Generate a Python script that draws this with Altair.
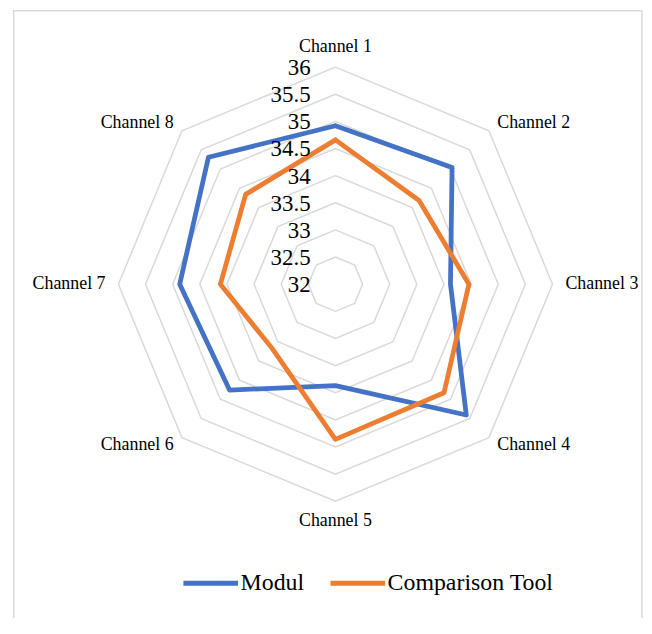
import altair as alt
import pandas as pd

# ---------------- data ----------------
channels = ["Channel 1", "Channel 2", "Channel 3", "Channel 4",
            "Channel 5", "Channel 6", "Channel 7", "Channel 8"]
modul = [34.92, 35.04, 34.12, 35.41, 33.87, 34.76, 34.87, 35.31]
comparison = [34.66, 34.18, 34.46, 34.83, 34.86, 33.66, 34.12, 34.34]
series_names = ["Modul", "Comparison Tool"]
series_colors = ["#4472C4", "#ED7D31"]
ring_values = [32, 32.5, 33, 33.5, 34, 34.5, 35, 35.5, 36]
tick_labels = ["32", "32.5", "33", "33.5", "34", "34.5", "35", "35.5", "36"]

R_MIN = ring_values[0]
N = len(channels)

rows = []
for name, vals in zip(series_names, [modul, comparison]):
    for k in range(N + 1):
        i = k % N
        rows.append({"series": name, "channel": channels[i], "idx": i,
                     "order": k, "value": vals[i]})
series_df = pd.DataFrame(rows)

grid_rows = []
for v in ring_values[1:]:
    for k in range(N + 1):
        grid_rows.append({"ring": v, "idx": k % N, "order": k, "value": v})
grid_df = pd.DataFrame(grid_rows)

tick_df = pd.DataFrame({"value": ring_values, "label": tick_labels})
label_df = pd.DataFrame({"channel": channels, "idx": list(range(N))})

# ---------------- layout ----------------
W, H = 633, 612
xs = alt.Scale(domain=[-5.943, 5.650], nice=False, zero=False)
ys = alt.Scale(domain=[-6.154, 5.055], nice=False, zero=False)
FONT = "Liberation Serif"

theta = f"datum.idx * 2 * PI / {N}"
polar_x = f"(datum.value - {R_MIN}) * sin({theta})"
polar_y = f"(datum.value - {R_MIN}) * cos({theta})"


def polar(chart):
    return chart.transform_calculate(px=polar_x, py=polar_y)


X = alt.X("px:Q", scale=xs, axis=None)
Y = alt.Y("py:Q", scale=ys, axis=None)

grid = polar(alt.Chart(grid_df)).mark_line(
    stroke="#d9d9d9", strokeWidth=1.5
).encode(x=X, y=Y, detail="ring:N", order="order:Q")

color = alt.Color(
    "series:N",
    scale=alt.Scale(domain=series_names, range=series_colors),
    legend=alt.Legend(
        title=None, orient="none", direction="horizontal",
        legendX=169, legendY=547, symbolType="stroke",
        symbolSize=3025, symbolStrokeWidth=5,
        labelFont=FONT, labelFontSize=24, labelColor="black",
        labelOffset=0, columnPadding=15, padding=0, labelLimit=0,
    ),
)

lines = []
for name in series_names:
    lines.append(
        polar(alt.Chart(series_df)).transform_filter(
            alt.datum.series == name
        ).mark_line(strokeWidth=4.8, strokeJoin="round", strokeCap="round").encode(
            x=X, y=Y, color=color, order="order:Q"
        )
    )

ticks = alt.Chart(tick_df).transform_calculate(
    px="0", py=f"datum.value - {R_MIN}"
).mark_text(align="right", baseline="middle", dx=-25, dy=1,
            font=FONT, fontSize=23, color="black").encode(
    x=X, y=Y, text="label:N"
)

m = "(datum.idx % 4)"
sgn_s = f"(sin({theta}) > 0 ? 1 : -1)"
sgn_c = f"(cos({theta}) > 0 ? 1 : -1)"
labels = alt.Chart(label_df).transform_calculate(
    px=f"{m} == 0 ? 0 : ({m} == 2 ? {sgn_s} * 4.91 : {sgn_s} * 3.654)",
    py=f"{m} == 2 ? 0 : ({m} == 0 ? {sgn_c} * 4.37 : {sgn_c} * 2.967)",
).mark_text(align="center", baseline="middle", font=FONT, fontSize=18,
            color="black").encode(x=X, y=Y, text="channel:N")

one = pd.DataFrame({"a": [0]})
border_left = alt.Chart(one).mark_rule(color="#d9d9d9", strokeWidth=1.5).encode(
    x=alt.value(0.75), y=alt.value(0), y2=alt.value(H))
border_top = alt.Chart(one).mark_rule(color="#d9d9d9", strokeWidth=1.5).encode(
    x=alt.value(0), x2=alt.value(W), y=alt.value(0.75))
border_right = alt.Chart(one).mark_rule(color="#d9d9d9", strokeWidth=1.5).encode(
    x=alt.value(W), y=alt.value(0), y2=alt.value(H))

chart = alt.layer(
    border_left, border_top, border_right, grid, *lines, ticks, labels
).properties(
    width=W, height=H,
    padding={"left": 5, "top": 0, "right": 2, "bottom": 0},
    autosize=alt.AutoSizeParams(type="none"),
).configure(font=FONT).configure_view(stroke=None)

chart.save("out.html", embed_options={"renderer": "svg", "actions": False})
